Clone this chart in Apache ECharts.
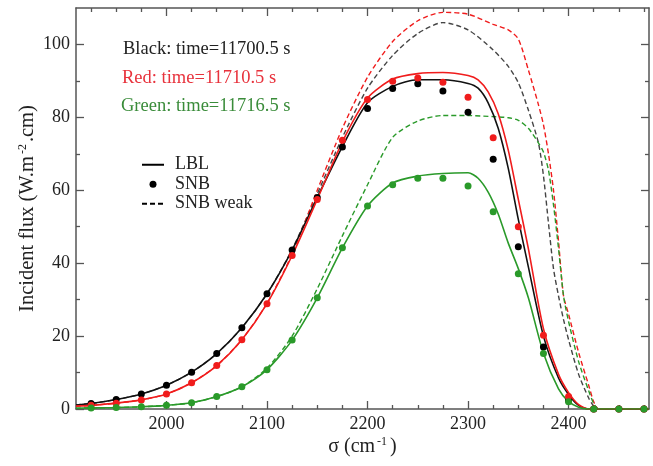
<!DOCTYPE html>
<html>
<head>
<meta charset="utf-8">
<script src="https://cdn.jsdelivr.net/npm/echarts@6/dist/echarts.min.js"></script>
<style>html,body{margin:0;padding:0;background:#fff}#c{width:653px;height:466px}</style>
</head>
<body>
<div id="c"></div>
<script>
// ---- data ----
const xMajorTicks = [2000, 2100, 2200, 2300, 2400];
const xMinorTicks = [1925, 1950, 1975, 2025, 2050, 2075, 2125, 2150, 2175, 2225, 2250, 2275, 2325, 2350, 2375, 2425, 2450, 2475];
const yMajorTicks = [0, 20, 40, 60, 80, 100];
const yMinorTicks = [10, 30, 50, 70, 90];

// SNB points
const snbX = [1925,1950,1975,2000,2025,2050,2075,2100,2125,2150,2175,2200,2225,2250,2275,2300,2325,2350,2375,2400,2425,2450,2475];
const snbBlack = [1.5,2.6,4.1,6.5,10.1,15.2,22.3,31.6,43.6,58.0,71.9,82.4,87.9,89.2,87.2,81.4,68.5,44.5,17.0,2.3,0,0,0];
const snbRed   = [1.0,1.6,2.5,4.1,7.2,11.9,19.0,28.9,42.1,57.5,73.7,84.9,89.9,90.8,89.6,85.5,74.4,50.0,20.2,3.4,0,0,0];
const snbGreen = [0.3,0.4,0.6,1.0,1.7,3.4,6.1,10.8,18.9,30.5,44.2,55.7,61.5,63.3,63.3,61.2,54.1,37.1,15.2,2.0,0,0,0];

// LBL lines
const lblX = [1910,1925,1950,1975,2000,2025,2050,2075,2100,2125,2150,2175,2200,2225,2250,2275,2300,2310,2320,2330,2340,2350,2360,2375,2390,2400,2410,2420,2480];
const lblBlack = [1.1,1.5,2.6,4.1,6.5,10.1,15.2,22.3,31.6,43.6,58.0,72.0,84.0,88.5,90.3,90.3,89.3,88.0,84.0,77.0,66.0,52.0,39.0,20.0,8.5,4.0,1.0,0,0];
const lblRed   = [0.8,1.0,1.6,2.5,4.1,7.2,11.9,19.0,28.9,42.1,57.5,73.3,85.3,90.5,92.0,92.3,91.5,90.3,87.0,81.0,71.0,57.5,44.0,22.0,9.5,4.5,1.2,0,0];
const lblGreen = [0.2,0.3,0.4,0.6,1.0,1.7,3.4,6.1,10.8,18.9,30.5,44.2,55.7,62.0,63.9,64.6,64.8,63.3,59.5,53.5,45.5,38.5,30.5,15.3,5.5,2.0,0.5,0,0];

// SNB weak (dashed)
const weakX = [1910,1925,1950,1975,2000,2025,2050,2075,2100,2125,2150,2175,2200,2225,2250,2275,2300,2325,2340,2350,2360,2370,2375,2380,2385,2390,2395,2400,2410,2420,2425,2430,2480];
const weakBlack = [1.1,1.5,2.6,4.1,6.5,10.1,15.2,22.3,31.6,43.8,59.0,74.5,88.0,97.0,103.0,106.0,104.0,98.5,94.0,89.5,82.0,73.0,64.0,51.0,38.5,31.0,24.5,19.0,9.5,3.0,0.8,0,0];
const weakRed   = [0.8,1.0,1.6,2.5,4.1,7.2,11.9,19.0,29.0,42.5,60.0,77.0,91.0,100.8,106.5,108.8,108.3,105.5,104.0,101.5,93.0,83.5,78.0,70.0,60.0,46.0,31.0,26.0,15.5,6.5,2.0,0,0];
const weakGreen = [0.2,0.3,0.4,0.6,1.0,1.7,3.4,6.1,11.2,20.0,33.0,47.5,61.5,74.5,79.0,80.5,80.5,80.2,79.9,79.2,77.0,73.0,70.5,65.5,56.0,44.0,31.0,24.0,13.0,5.0,1.5,0,0];

const annotations = ['Black: time=11700.5 s', 'Red: time=11710.5 s', 'Green: time=11716.5 s'];
const legendNames = ['LBL', 'SNB', 'SNB weak'];

// ---- styles ----
const C_BLACK = '#111111', C_RED = '#f01c1c', C_GREEN = '#2a9a2a';
const FONT = 'Liberation Serif';
const AX = '#555555';

function pairs(xs, ys) { return xs.map((x, i) => [x, ys[i]]); }
const plainNum = v => String(v);

function xAxisDef(pos, ticks, len, withLabel, showLine) {
  return {
    type: 'value', position: pos, min: 1910, max: 2480,
    axisLine: { show: showLine, onZero: false, lineStyle: { color: AX, width: 1.5 } },
    axisTick: { show: true, inside: true, length: len, customValues: ticks, lineStyle: { color: AX, width: 1.3 } },
    axisLabel: withLabel ? { show: true, customValues: ticks, formatter: plainNum, margin: 6, fontFamily: FONT, fontSize: 18, color: '#222' } : { show: false },
    splitLine: { show: false }
  };
}
function yAxisDef(pos, ticks, len, withLabel, showLine) {
  return {
    type: 'value', position: pos, min: 0, max: 110,
    axisLine: { show: showLine, onZero: false, lineStyle: { color: AX, width: 1.5 } },
    axisTick: { show: true, inside: true, length: len, customValues: ticks, lineStyle: { color: AX, width: 1.3 } },
    axisLabel: withLabel ? { show: true, customValues: ticks, formatter: plainNum, margin: 6, fontFamily: FONT, fontSize: 18, color: '#222' } : { show: false },
    splitLine: { show: false }
  };
}

const xa0 = xAxisDef('bottom', xMajorTicks, 8, true, true);
xa0.name = '{a|σ (cm}{s|-1}{a|)}';
xa0.nameLocation = 'middle';
xa0.nameGap = 27;
xa0.nameMoveOverlap = false;
xa0.nameTextStyle = { rich: {
  a: { fontFamily: FONT, fontSize: 20, color: '#222', lineHeight: 22 },
  s: { fontFamily: FONT, fontSize: 12, color: '#222', verticalAlign: 'top', lineHeight: 12, padding: [0, 3, 0, 2] }
}};
const ya0 = yAxisDef('left', yMajorTicks, 8, true, true);
ya0.name = '{a|Incident flux (W.m}{s|-2}{a|.cm)}';
ya0.nameLocation = 'middle';
ya0.nameGap = 37;
ya0.nameMoveOverlap = false;
ya0.nameTextStyle = { rich: {
  a: { fontFamily: FONT, fontSize: 20.5, color: '#222', lineHeight: 22 },
  s: { fontFamily: FONT, fontSize: 12, color: '#222', verticalAlign: 'top', lineHeight: 12, padding: [0, 2, 0, 2] }
}};

const lineS = (name, xs, ys, color, dashed) => ({
  type: 'line', name: name, data: pairs(xs, ys), xAxisIndex: 0, yAxisIndex: 0,
  symbol: 'none', smooth: 0.25, silent: true, z: dashed ? 2 : 3,
  lineStyle: { color: color, width: dashed ? 1.4 : 1.6, type: dashed ? [5, 3] : 'solid' },
  itemStyle: { color: color }
});
const dotS = (name, xs, ys, color) => ({
  type: 'scatter', name: name, data: pairs(xs, ys), xAxisIndex: 0, yAxisIndex: 0,
  symbol: 'circle', symbolSize: 7, silent: true, z: 4,
  itemStyle: { color: color, opacity: 1 }
});

const series = [
  lineS('wk', weakX, weakBlack, '#444444', true),
  lineS('wr', weakX, weakRed, C_RED, true),
  lineS('wg', weakX, weakGreen, C_GREEN, true),
  lineS('lb', lblX, lblBlack, C_BLACK, false),
  lineS('lr', lblX, lblRed, C_RED, false),
  lineS('lg', lblX, lblGreen, C_GREEN, false),
  dotS('sb', snbX, snbBlack, '#000'),
  dotS('sr', snbX, snbRed, C_RED),
  dotS('sg', snbX, snbGreen, C_GREEN),
  // legend-only entries
  { type: 'line', name: legendNames[0], data: [], symbol: 'none', lineStyle: { color: '#000', width: 1.6 }, itemStyle: { color: '#000' } },
  { type: 'scatter', name: legendNames[1], data: [], symbol: 'circle', symbolSize: 7, itemStyle: { color: '#000', opacity: 1 } },
  { type: 'line', name: legendNames[2], data: [], symbol: 'none', lineStyle: { color: '#000', width: 1.4, type: [5, 3] }, itemStyle: { color: '#000' } }
];

const annColors = ['#222222', '#e8323c', '#3a8c3a'];
const annMids = [48.5, 77.5, 106];
const annLefts = [123, 122, 121];

const chart = echarts.init(document.getElementById('c'), null, { renderer: 'canvas' });
chart.setOption({
  animation: false,
  backgroundColor: '#fff',
  grid: { left: 76, top: 8, right: 4, bottom: 57, containLabel: false },
  xAxis: [
    xa0,
    xAxisDef('bottom', xMinorTicks, 4, false, false),
    xAxisDef('top', xMajorTicks, 8, false, true),
    xAxisDef('top', xMinorTicks, 4, false, false)
  ],
  yAxis: [
    ya0,
    yAxisDef('left', yMinorTicks, 4, false, false),
    yAxisDef('right', yMajorTicks, 8, false, true),
    yAxisDef('right', yMinorTicks, 4, false, false)
  ],
  legend: {
    data: [
      { name: legendNames[0], itemStyle: { opacity: 0 } },
      { name: legendNames[1], itemStyle: { opacity: 1 } },
      { name: legendNames[2], itemStyle: { opacity: 0 } }
    ],
    orient: 'vertical', left: 136, top: 150,
    itemWidth: 22, itemHeight: 7, itemGap: 0, selectedMode: false,
    textStyle: { fontFamily: FONT, fontSize: 18, color: '#222', lineHeight: 19.5, padding: [0, 0, 0, 6] }
  },
  graphic: annotations.map((t, i) => ({
    type: 'text', left: annLefts[i], top: annMids[i] - 9,
    style: { text: t, fontFamily: FONT, fontSize: 18.5, fill: annColors[i] }
  })),
  series: series
});
</script>
</body>
</html>
